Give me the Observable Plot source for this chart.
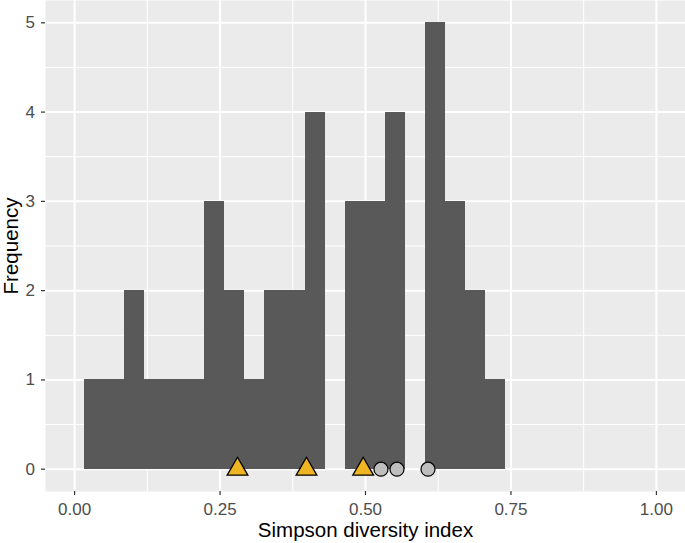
<!DOCTYPE html>
<html>
<head>
<meta charset="utf-8">
<script src="https://cdn.jsdelivr.net/npm/d3@7"></script>
<script src="https://cdn.jsdelivr.net/npm/@observablehq/plot@0.6"></script>
<style>
  html, body { margin: 0; padding: 0; background: #ffffff; }
  #chart svg { display: block; }
</style>
</head>
<body>
<div id="chart"></div>
<script>
// ---- data ----
const xTicks = [0, 0.25, 0.5, 0.75, 1];
const xMinorTicks = [0.125, 0.375, 0.625, 0.875];
const yTicks = [0, 1, 2, 3, 4, 5];
const yMinorTicks = [0.5, 1.5, 2.5, 3.5, 4.5];
const binStart = 0.0172;
const binWidth = 0.03445;
const binCounts = [1, 1, 2, 1, 1, 1, 3, 2, 1, 2, 2, 4, 0, 3, 3, 4, 0, 5, 3, 2, 1];
const triangleValues = [0.280, 0.3986, 0.496];
const circleValues = [0.5266, 0.5541, 0.6074];
const pointFrequency = 0;
const xLabel = "Simpson diversity index";
const yLabel = "Frequency";

const bins = binCounts.map((c, i) => ({
  x1: binStart + i * binWidth,
  x2: binStart + (i + 1) * binWidth,
  count: c
})).filter(d => d.count > 0);

const font = "'Liberation Sans', Arial, Helvetica, sans-serif";

const chart = Plot.plot({
  width: 685,
  height: 543,
  marginLeft: 45,
  marginRight: 0,
  marginTop: 0,
  marginBottom: 52,
  style: { fontFamily: font, fontSize: "17px", background: "#ffffff" },
  x: { domain: [-0.05, 1.05] },
  y: { domain: [-0.25, 5.25] },
  marks: [
    Plot.frame({ fill: "#EBEBEB", stroke: null }),
    Plot.ruleX(xMinorTicks, { stroke: "#ffffff", strokeWidth: 1 }),
    Plot.ruleY(yMinorTicks, { stroke: "#ffffff", strokeWidth: 1 }),
    Plot.ruleX(xTicks, { stroke: "#ffffff", strokeWidth: 2 }),
    Plot.ruleY(yTicks, { stroke: "#ffffff", strokeWidth: 2 }),
    Plot.rectY(bins, { x1: "x1", x2: "x2", y: "count", fill: "#595959", shapeRendering: "crispEdges" }),
    Plot.dot(triangleValues, { x: d => d, y: () => pointFrequency, symbol: "triangle", r: 7.7, fill: "#EEB422", stroke: "#000000", strokeWidth: 1.3 }),
    Plot.dot(circleValues, { x: d => d, y: () => pointFrequency, symbol: "circle", r: 7, fill: "#BEBEBE", stroke: "#000000", strokeWidth: 1.2 }),
    Plot.axisX({ ticks: xTicks, tickFormat: d3.format(".2f"), tickSize: 4, tickPadding: 7, stroke: "#333333", strokeWidth: 1.2,
      fill: "#4D4D4D", fontSize: 17, label: null }),
    Plot.axisY({ ticks: yTicks, tickFormat: d3.format("d"), tickSize: 4, tickPadding: 6.5, stroke: "#333333", strokeWidth: 1.2,
      fill: "#4D4D4D", fontSize: 17, label: null }),
    Plot.text([xLabel], { text: d => d, frameAnchor: "bottom", lineAnchor: "top", textAnchor: "middle", dy: 31,
      fontSize: 20.5, fill: "#000000" }),
    Plot.text([yLabel], { text: d => d, frameAnchor: "left", lineAnchor: "top", textAnchor: "middle", rotate: -90, dx: -42,
      fontSize: 20.5, fill: "#000000" })
  ]
});
document.getElementById("chart").appendChild(chart);
</script>
</body>
</html>
